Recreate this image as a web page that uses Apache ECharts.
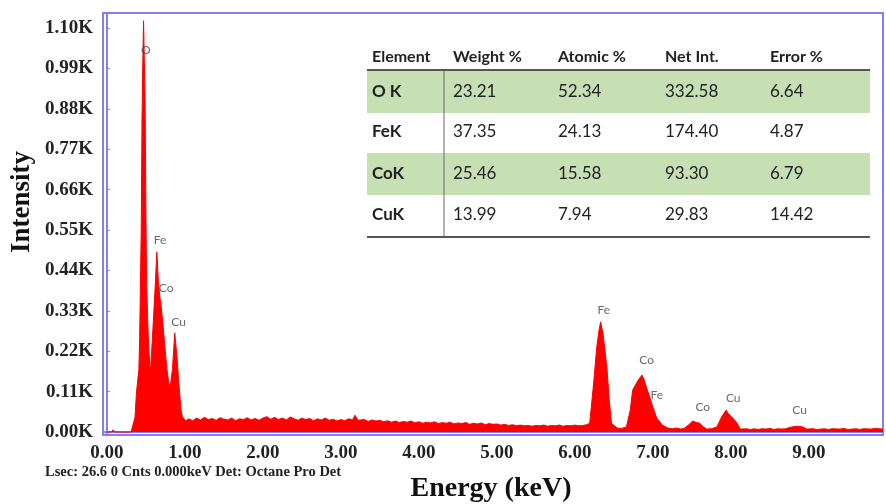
<!DOCTYPE html>
<html>
<head>
<meta charset="utf-8">
<script src="https://cdn.jsdelivr.net/npm/echarts@6/dist/echarts.min.js"></script>
<style>
html,body{margin:0;padding:0;background:#fff;}
#chart{width:886px;height:504px;}
</style>
</head>
<body>
<div id="chart"></div>
<script>
// ---- data ----
const spectrum = [
  [0.00,0],[0.06,0],[0.08,6],[0.10,0],[0.21,0],[0.23,5],[0.25,0],[0.31,0],
  [0.33,4],[0.36,40],[0.38,110],[0.41,170],[0.42,260],[0.44,550],[0.45,850],
  [0.46,1000],[0.47,1120],[0.49,900],[0.50,600],[0.51,400],[0.53,260],[0.55,180],
  [0.56,170],[0.59,280],[0.62,400],[0.64,490],[0.66,410],[0.68,365],[0.69,355],
  [0.72,290],[0.74,240],[0.77,170],[0.79,140],[0.81,120],[0.84,170],[0.87,270],
  [0.90,200],[0.92,140],[0.94,87],[0.95,60],[0.97,41],[1.01,30],
  [1.05,36],[1.10,31],[1.15,38],[1.20,33],[1.25,40],[1.30,34],[1.35,37],[1.40,32],
  [1.45,39],[1.50,35],[1.55,33],[1.60,38],[1.65,31],[1.70,36],[1.75,34],[1.80,39],
  [1.85,33],[1.90,37],[1.95,32],[2.00,38],[2.05,42],[2.10,35],[2.15,40],[2.20,34],
  [2.25,38],[2.30,33],[2.35,41],[2.40,36],[2.45,32],[2.50,38],[2.55,34],[2.60,37],
  [2.65,31],[2.70,36],[2.75,33],[2.80,38],[2.85,32],[2.90,35],[2.95,30],[3.00,34],
  [3.05,31],[3.10,36],[3.15,33],[3.18,46],[3.22,32],[3.30,34],[3.35,29],[3.40,33],
  [3.45,30],[3.50,32],[3.55,28],[3.60,31],[3.65,27],[3.70,30],[3.75,26],[3.80,29],
  [3.85,27],[3.90,30],[3.95,25],[4.00,28],[4.05,24],[4.10,27],[4.15,25],[4.20,28],
  [4.25,23],[4.30,26],[4.35,24],[4.40,27],[4.45,22],[4.50,25],[4.55,23],[4.60,26],
  [4.65,21],[4.70,24],[4.75,22],[4.80,25],[4.85,20],[4.90,23],[4.95,21],[5.00,22],
  [5.05,19],[5.10,21],[5.15,18],[5.20,20],[5.25,17],[5.30,19],[5.35,17],[5.40,18],
  [5.45,16],[5.50,18],[5.55,17],[5.60,19],[5.65,16],[5.70,18],[5.75,17],[5.80,19],
  [5.85,16],[5.90,18],[5.95,17],[6.00,19],[6.05,17],[6.10,18],[6.15,20],
  [6.19,24],[6.24,133],[6.28,231],[6.31,278],[6.33,300],[6.36,269],[6.41,177],
  [6.44,87],[6.47,24],[6.54,11],[6.60,10],[6.66,14],[6.71,60],[6.74,114],
  [6.81,141],[6.86,155],[6.88,147],[6.92,120],[6.96,95],[7.00,68],[7.05,38],
  [7.12,19],[7.19,11],[7.25,9],[7.30,11],[7.36,8],[7.41,11],[7.46,20],[7.51,30],
  [7.56,26],[7.60,24],[7.65,14],[7.69,8],[7.75,9],[7.82,14],[7.88,41],[7.94,60],
  [7.96,52],[8.01,41],[8.05,32],[8.08,24],[8.12,8],[8.20,9],[8.25,7],[8.30,9],
  [8.35,7],[8.40,9],[8.45,8],[8.50,10],[8.55,7],[8.60,9],[8.65,8],[8.70,9],
  [8.78,14],[8.85,16],[8.92,14],[8.97,8],[9.05,9],[9.10,7],[9.20,9],[9.25,7],
  [9.30,9],[9.40,8],[9.45,10],[9.50,7],[9.60,9],[9.65,7],[9.70,9],[9.80,8],
  [9.85,10],[9.95,8]
];
const peakLabels = [
  ['O',0.50,1039],['Fe',0.68,522],['Co',0.76,392],['Cu',0.92,299],
  ['Fe',6.37,332],['Co',6.92,196],['Fe',7.05,101],['Co',7.64,68],
  ['Cu',8.03,92],['Cu',8.88,60]
];
const xTicks = [0,1,2,3,4,5,6,7,8,9];
const yTicks = [0,110,220,330,440,550,660,770,880,990,1100];

const tableHeader = ['Element','Weight %','Atomic %','Net Int.','Error %'];
const tableElement = ['O K','FeK','CoK','CuK'];
const tableWeight = ['23.21','37.35','25.46','13.99'];
const tableAtomic = ['52.34','24.13','15.58','7.94'];
const tableNetInt = ['332.58','174.40','93.30','29.83'];
const tableError = ['6.64','4.87','6.79','14.42'];

// ---- chart ----
const chart = echarts.init(document.getElementById('chart'));
const serif = '"Liberation Serif","Times New Roman",serif';
const sans = 'Lato,"Open Sans",sans-serif';

const colX = [372,453,558,665,770];
const rowY = [92,132,174,215];
const graphics = [];
[0,2].forEach(function(r){
  graphics.push({type:'rect',shape:{x:367,y:rowY[r]-21,width:503,height:42},style:{fill:'#c6e0b4'},z:10});
});
graphics.push({type:'line',shape:{x1:367,y1:70,x2:870,y2:70},style:{stroke:'#555',lineWidth:2},z:11});
graphics.push({type:'line',shape:{x1:367,y1:237,x2:870,y2:237},style:{stroke:'#555',lineWidth:2},z:11});
graphics.push({type:'line',shape:{x1:444,y1:70,x2:444,y2:237},style:{stroke:'#666',lineWidth:1},z:11});
tableHeader.forEach(function(h,i){
  graphics.push({type:'text',x:colX[i],y:57,style:{text:h,font:'bold 16px '+sans,fill:'#222',textVerticalAlign:'middle'},z:12});
});
const cols = [tableElement,tableWeight,tableAtomic,tableNetInt,tableError];
cols.forEach(function(col,c){
  col.forEach(function(v,r){
    graphics.push({type:'text',x:colX[c],y:rowY[r],style:{text:v,font:(c===0?'bold ':'')+'17px '+sans,fill:'#222',textVerticalAlign:'middle'},z:12});
  });
});
graphics.push({type:'text',x:22,y:202,rotation:Math.PI/2,style:{text:'Intensity',font:'bold 27px '+serif,fill:'#111',textAlign:'center',textVerticalAlign:'middle'}});
graphics.push({type:'text',x:491,y:489,style:{text:'Energy (keV)',font:'bold 28px '+serif,fill:'#111',textAlign:'center',textVerticalAlign:'middle'}});
graphics.push({type:'text',x:45,y:472,style:{text:'Lsec: 26.6 0 Cnts 0.000keV Det: Octane Pro Det',font:'bold 14.5px '+serif,fill:'#222',textVerticalAlign:'middle'}});

chart.setOption({
  animation:false,
  backgroundColor:'#fff',
  grid:{left:103,top:13,right:3,bottom:69,show:true,borderColor:'#8080f0',borderWidth:2,backgroundColor:'#fff'},
  xAxis:{
    type:'value',min:-0.05,max:9.95,
    axisLine:{show:true,lineStyle:{color:'#8080f0',width:2}},
    axisTick:{show:true,inside:true,length:3,customValues:xTicks,lineStyle:{color:'#8080f0'}},
    axisLabel:{customValues:xTicks,margin:9,formatter:function(v){return v.toFixed(2);},fontFamily:serif,fontWeight:'bold',fontSize:19,color:'#222'},
    splitLine:{show:false}
  },
  yAxis:{
    type:'value',min:-8,max:1141,
    axisLine:{show:true,lineStyle:{color:'#8080f0',width:2}},
    axisTick:{show:true,inside:true,length:3,customValues:yTicks,lineStyle:{color:'#8080f0'}},
    axisLabel:{customValues:yTicks,margin:10,formatter:function(v){return (v/1000).toFixed(2)+'K';},fontFamily:serif,fontWeight:'bold',fontSize:19,color:'#222'},
    splitLine:{show:false}
  },
  graphic:graphics,
  series:[
    {type:'line',data:spectrum,showSymbol:false,symbol:'none',sampling:null,
     lineStyle:{color:'#ff0000',width:1},areaStyle:{color:'#ff0000',opacity:1},z:2},
    {type:'scatter',symbolSize:0,z:3,
     data:peakLabels.map(function(p){return {name:p[0],value:[p[1],p[2]]};}),
     label:{show:true,position:'inside',formatter:function(p){return p.name;},fontFamily:sans,fontSize:12,color:'#444'}}
  ]
});
</script>
</body>
</html>
